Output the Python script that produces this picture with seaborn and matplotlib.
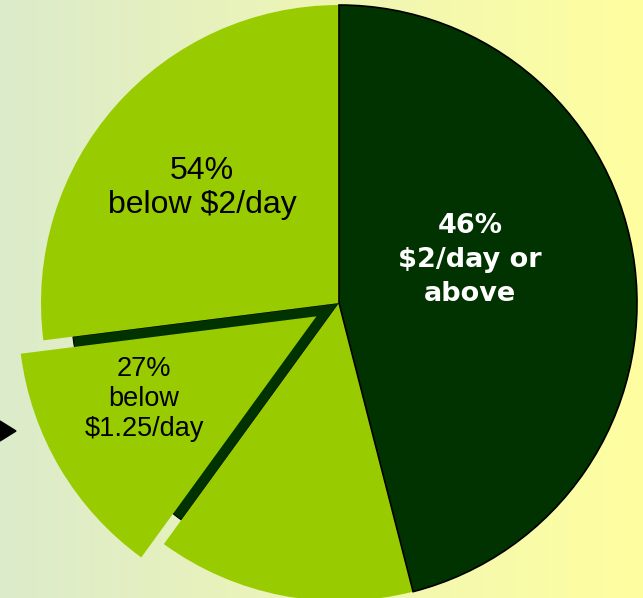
import numpy as np
import matplotlib.pyplot as plt
import seaborn as sns
from matplotlib.colors import LinearSegmentedColormap

# pie slices, counter-clockwise from 12 o'clock
shares = [27, 13, 14, 46]
slice_colors = ['#99cc00', '#99cc00', '#99cc00', '#003300']
explode = [0, 0.088, 0, 0]

label_54 = '54%\nbelow $2/day'
label_27 = '27%\nbelow\n$1.25/day'
label_46 = '46%\n$2/day or\nabove'

sns.set_theme(style="white")
fig = plt.figure(figsize=(6.43, 5.98), dpi=100)
ax = fig.add_axes([0, 0, 1, 1])

xlim = (-1.1376, 1.0201)
ylim = (-0.9899, 1.0168)

# background gradient, pale green to pale yellow
grad = np.linspace(0, 1, 256).reshape(1, -1)
bg = LinearSegmentedColormap.from_list('bg', ['#dcebcb', '#ffffa0'])
ax.imshow(grad, cmap=bg, extent=[*xlim, *ylim], aspect='auto', zorder=0)

# dark wedge left behind where the slice is pulled out
under, _ = ax.pie(shares, startangle=90, radius=0.9, colors=['#003300'] * 4,
                  wedgeprops=dict(linewidth=0.8, edgecolor='black'))
for i, w in enumerate(under):
    w.set_visible(i == 1)

wedges, _ = ax.pie(shares, startangle=90, colors=slice_colors, explode=explode,
                   wedgeprops=dict(linewidth=0))
wedges[3].set_edgecolor('black')
wedges[3].set_linewidth(1.2)


def px(x, y):
    # pixel position in the picture -> data units (radius 1 = 298 px)
    return (x - 339) / 298, (303 - y) / 298


ax.text(*px(202, 188), label_54, ha='center', va='center', fontsize=23,
        family='Liberation Sans', color='black', linespacing=1.17)
ax.text(*px(144, 399), label_27, ha='center', va='center', fontsize=19.5,
        family='Liberation Sans', color='black', linespacing=1.22)
ax.text(*px(470, 260), label_46, ha='center', va='center', fontsize=19.5,
        family='DejaVu Sans', fontweight='bold', color='white', linespacing=1.38)

# little pointer at the left edge
tri = plt.Polygon([(0, 1 - 421 / 598), (16 / 643, 1 - 431 / 598), (0, 1 - 441 / 598)],
                  closed=True, color='black', transform=ax.transAxes, clip_on=False)
ax.add_patch(tri)

ax.set_xlim(*xlim)
ax.set_ylim(*ylim)
ax.set_aspect('equal')
ax.axis('off')

fig.savefig('out.png', dpi=100)
